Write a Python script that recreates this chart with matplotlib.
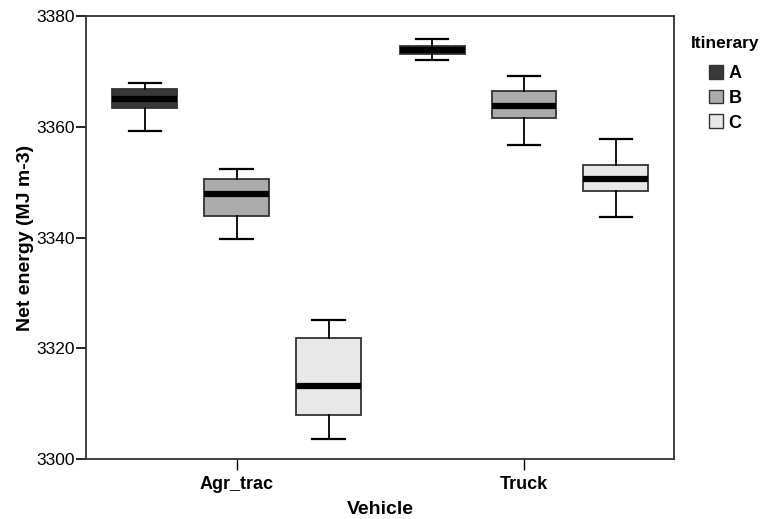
import matplotlib
matplotlib.use("Agg")
import matplotlib.pyplot as plt
from matplotlib.patches import Patch

plt.rcParams['font.family'] = ['Liberation Sans', 'DejaVu Sans']

vehicles = ["Agr_trac", "Truck"]
itineraries = ["A", "B", "C"]
colors = ["#383838", "#ababab", "#e8e8e8"]

# per vehicle, per itinerary: [whislo, q1, med, q3, whishi]
agr_trac = {
    "A": [3359.3, 3363.3, 3365.0, 3366.8, 3367.9],
    "B": [3339.8, 3343.8, 3347.8, 3350.5, 3352.4],
    "C": [3303.7, 3308.0, 3313.3, 3321.9, 3325.2],
}
truck = {
    "A": [3372.0, 3373.1, 3373.8, 3374.5, 3375.8],
    "B": [3356.6, 3361.5, 3363.8, 3366.5, 3369.1],
    "C": [3343.7, 3348.4, 3350.5, 3353.0, 3357.7],
}
data = [agr_trac, truck]

yticks = [3300, 3320, 3340, 3360, 3380]

fig = plt.figure(figsize=(7.63, 5.19), dpi=100)
ax = fig.add_axes([0.1127, 0.115, 0.7706, 0.8547])

offset = 0.32
width = 0.226
for vi, vd in enumerate(data):
    for ii, it in enumerate(itineraries):
        lo, q1, med, q3, hi = vd[it]
        stats = [dict(whislo=lo, q1=q1, med=med, q3=q3, whishi=hi, fliers=[])]
        pos = vi + (ii - 1) * offset
        ax.bxp(stats, positions=[pos], widths=width, patch_artist=True,
               showfliers=False, manage_ticks=False,
               boxprops=dict(facecolor=colors[ii], edgecolor="#333333", linewidth=1.3),
               medianprops=dict(color="black", linewidth=4.5, solid_capstyle="butt"),
               whiskerprops=dict(color="black", linewidth=1.3),
               capprops=dict(color="black", linewidth=1.6),
               capwidths=width / 2)

ax.set_xlim(-0.5245, 1.522)
ax.set_ylim(3300, 3380)
ax.set_yticks(yticks)
ax.set_yticklabels([str(t) for t in yticks], fontsize=12.5)
ax.set_xticks(range(len(vehicles)))
ax.set_xticklabels(vehicles, fontsize=13, fontweight="bold")
ax.tick_params(axis="y", direction="out", length=7, width=1.2, pad=1)
ax.tick_params(axis="x", direction="out", length=8, width=1, pad=4)
for s in ax.spines.values():
    s.set_linewidth(1.3)
    s.set_color("#333333")

ax.set_xlabel("Vehicle", fontsize=14, fontweight="bold", labelpad=6)
ax.set_ylabel("Net energy (MJ m-3)", fontsize=14, fontweight="bold", labelpad=2)

handles = [Patch(facecolor=c, edgecolor="#333333", label=l) for c, l in zip(colors, itineraries)]
leg = fig.legend(handles=handles, title="Itinerary", loc="upper left",
                 bbox_to_anchor=(0.9045, 0.948), frameon=False,
                 handlelength=0.8, handleheight=0.8, handletextpad=0.3,
                 labelspacing=0.42, prop=dict(size=13, weight="bold"),
                 title_fontproperties=dict(size=12.5, weight="bold"), borderpad=0.0)
leg._legend_box.sep = 10
leg._legend_box.align = "center"

fig.canvas.draw()
bb = leg.get_window_extent()
# shift legend so its title starts near x=691 px
dx = (691 - bb.x0) / fig.bbox.width
leg.set_bbox_to_anchor((0.9045 + dx, 0.948), transform=fig.transFigure)

fig.savefig("out.png", dpi=100)
